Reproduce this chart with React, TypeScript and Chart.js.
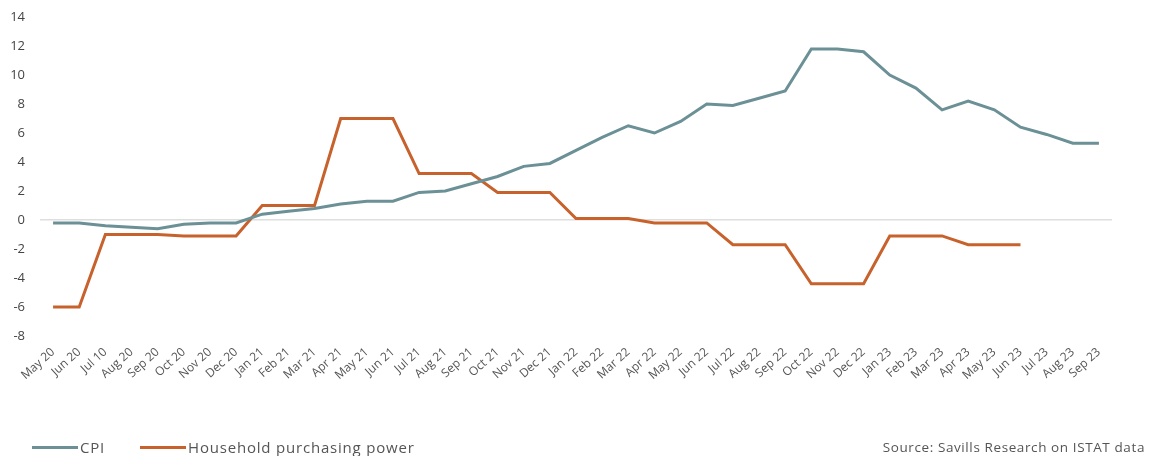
import React, { useEffect, useRef } from "react";
import { Chart, registerables } from "chart.js";

Chart.register(...registerables);

const months = [
  "May 20", "Jun 20", "Jul 10", "Aug 20", "Sep 20", "Oct 20", "Nov 20", "Dec 20",
  "Jan 21", "Feb 21", "Mar 21", "Apr 21", "May 21", "Jun 21", "Jul 21", "Aug 21",
  "Sep 21", "Oct 21", "Nov 21", "Dec 21", "Jan 22", "Feb 22", "Mar 22", "Apr 22",
  "May 22", "Jun 22", "Jul 22", "Aug 22", "Sep 22", "Oct 22", "Nov 22", "Dec 22",
  "Jan 23", "Feb 23", "Mar 23", "Apr 23", "May 23", "Jun 23", "Jul 23", "Aug 23", "Sep 23",
];

const cpi = [
  -0.2, -0.2, -0.4, -0.5, -0.6, -0.3, -0.2, -0.2,
  0.4, 0.6, 0.8, 1.1, 1.3, 1.3, 1.9, 2.0,
  2.5, 3.0, 3.7, 3.9, 4.8, 5.7, 6.5, 6.0,
  6.8, 8.0, 7.9, 8.4, 8.9, 11.8, 11.8, 11.6,
  10.0, 9.1, 7.6, 8.2, 7.6, 6.4, 5.9, 5.3, 5.3,
];

const household = [
  -6.0, -6.0, -1.0, -1.0, -1.0, -1.1, -1.1, -1.1,
  1.0, 1.0, 1.0, 7.0, 7.0, 7.0, 3.2, 3.2,
  3.2, 1.9, 1.9, 1.9, 0.1, 0.1, 0.1, -0.2,
  -0.2, -0.2, -1.7, -1.7, -1.7, -4.4, -4.4, -4.4,
  -1.1, -1.1, -1.1, -1.7, -1.7, -1.7, null, null, null,
];

const seriesNames = ["CPI", "Household purchasing power"];
const seriesColors = ["#6b9096", "#c8622d"];
const yMin = -8;
const yMax = 14;
const yStep = 2;
const sourceText = "Source: Savills Research on ISTAT data";

const FONT = "'Open Sans', 'DejaVu Sans', sans-serif";

export default function App() {
  const canvasRef = useRef<HTMLCanvasElement | null>(null);

  useEffect(() => {
    document.body.style.margin = "0";
    const canvas = canvasRef.current;
    if (!canvas) return;
    const chart = new Chart(canvas, {
      type: "line",
      data: {
        labels: months,
        datasets: [
          {
            label: seriesNames[0],
            data: cpi,
            borderColor: seriesColors[0],
            backgroundColor: seriesColors[0],
            borderWidth: 3,
            pointRadius: 0,
            tension: 0,
          },
          {
            label: seriesNames[1],
            data: household,
            borderColor: seriesColors[1],
            backgroundColor: seriesColors[1],
            borderWidth: 3,
            pointRadius: 0,
            tension: 0,
            spanGaps: false,
          },
        ],
      },
      options: {
        animation: false,
        responsive: false,
        maintainAspectRatio: false,
        layout: { padding: { top: 17, right: 37, bottom: 0, left: 0 } },
        plugins: {
          legend: { display: false },
          tooltip: { enabled: false },
        },
        scales: {
          x: {
            offset: true,
            grid: { display: false, drawTicks: false },
            border: { display: false },
            ticks: {
              autoSkip: false,
              minRotation: 42,
              maxRotation: 42,
              padding: 9,
              color: "#555",
              font: { family: FONT, size: 12 },
            },
            afterFit: (scale: any) => {
              scale.height = 120;
            },
          },
          y: {
            min: yMin,
            max: yMax,
            grid: {
              drawTicks: false,
              color: (ctx: any) => (ctx.tick && ctx.tick.value === 0 ? "#dedede" : "rgba(0,0,0,0)"),
              lineWidth: 1.5,
            },
            border: { display: false },
            ticks: {
              stepSize: yStep,
              padding: 15,
              color: "#444",
              font: { family: FONT, size: 13 },
            },
            afterFit: (scale: any) => {
              scale.width = 40;
              scale.paddingTop = 0;
              scale.paddingBottom = 0;
            },
          },
        },
      },
    });
    return () => chart.destroy();
  }, []);

  const legendItem = (name: string, color: string, gap: number) => (
    <div style={{ display: "flex", alignItems: "center", marginRight: gap }}>
      <div style={{ width: 46, height: 3, background: color, marginRight: 2 }} />
      <span>{name}</span>
    </div>
  );

  return (
    <div style={{ position: "absolute", left: 0, top: 0, width: 1149, height: 456, background: "#fff" }}>
      <canvas ref={canvasRef} width={1149} height={456} style={{ display: "block" }} />
      <div
        style={{
          position: "absolute",
          left: 32,
          top: 437,
          display: "flex",
          alignItems: "center",
          fontFamily: FONT,
          fontSize: 15,
          letterSpacing: "0.8px",
          color: "#555",
          lineHeight: "20px",
        }}
      >
        {legendItem(seriesNames[0], seriesColors[0], 35)}
        {legendItem(seriesNames[1], seriesColors[1], 0)}
      </div>
      <div
        style={{
          position: "absolute",
          right: 4,
          top: 438,
          fontFamily: FONT,
          fontSize: 13.5,
          letterSpacing: "0.6px",
          color: "#555",
          lineHeight: "18px",
          whiteSpace: "nowrap",
        }}
      >
        {sourceText}
      </div>
    </div>
  );
}
